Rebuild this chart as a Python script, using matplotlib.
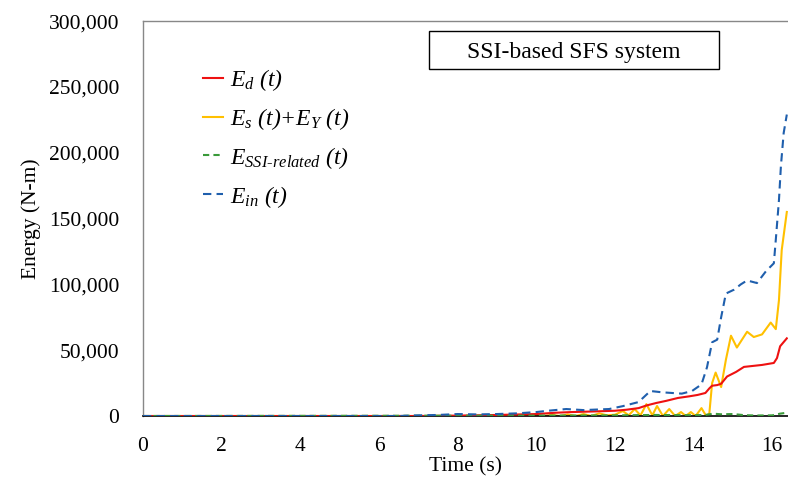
import numpy as np
import matplotlib.pyplot as plt
from matplotlib.ticker import FuncFormatter
from matplotlib.patches import Rectangle

plt.rcParams['font.family'] = 'Liberation Serif'
plt.rcParams['mathtext.fontset'] = 'custom'
plt.rcParams['mathtext.rm'] = 'Liberation Serif'
plt.rcParams['mathtext.it'] = 'Liberation Serif:italic'

# E_d(t)
t_d = [0, 7, 8, 9, 10, 10.5, 10.9, 11.5, 12.0, 12.3, 12.6, 12.8, 13.05, 13.3, 13.6, 13.9,
       14.1, 14.3, 14.4, 14.47, 14.6, 14.7, 14.85, 15.08, 15.28, 15.74, 16.04, 16.12, 16.2, 16.37]
e_d = [0, 0, 300, 800, 1500, 2500, 3000, 3500, 4000, 4800, 6000, 8000, 9900, 11500, 13700, 15000,
       16000, 17500, 21000, 23000, 23500, 24500, 30000, 33500, 37300, 38800, 40300, 44000, 53000, 59000]

# E_s(t) + E_Y(t)
t_s = [0, 9.5, 10.0, 10.2, 10.4, 10.6, 10.8, 11.0, 11.2, 11.4, 11.6, 11.8, 12.0, 12.2, 12.35,
       12.5, 12.65, 12.8, 12.95, 13.07, 13.22, 13.38, 13.53, 13.68, 13.8, 13.93, 14.05, 14.2,
       14.32, 14.4, 14.47, 14.56, 14.7, 14.82, 14.95, 15.1, 15.36, 15.53, 15.74, 15.96, 16.09,
       16.17, 16.24, 16.37]
e_s = [0, 0, 500, 0, 800, 0, 1200, 0, 1500, 0, 2000, 500, 1000, 3800, 500,
       5300, 500, 9000, 500, 7600, 0, 5300, 0, 3000, 0, 3000, 0, 6000,
       0, 2000, 25000, 33000, 22000, 42600, 61000, 52000, 64000, 60000, 62000, 71000, 66000,
       88000, 126000, 155000]

# E_SSI-related(t)
t_ssi = [0, 10, 12, 13, 14, 14.3, 14.5, 14.7, 15.0, 15.3, 15.6, 16.0, 16.2, 16.37]
e_ssi = [0, 300, 500, 800, 600, 800, 1800, 1300, 1500, 600, 400, 500, 1800, 2500]

# E_in(t)
t_in = [0, 6.5, 7.0, 7.5, 8.0, 8.5, 9.0, 9.5, 10.0, 10.3, 10.76, 11.2, 11.85, 12.2, 12.6, 12.9,
        13.2, 13.45, 13.7, 13.96, 14.2, 14.34, 14.47, 14.6, 14.7, 14.82, 15.03, 15.2, 15.36,
        15.61, 15.84, 16.04, 16.09, 16.17, 16.22, 16.29, 16.37]
e_in = [0, 0, 500, 800, 1500, 1200, 1500, 2000, 3000, 4000, 5300, 4500, 5300, 7500, 10600, 19000,
        18000, 17500, 17000, 19000, 24000, 37000, 56000, 58000, 75000, 93000, 96000, 100000, 103000,
        101000, 110000, 116000, 134000, 164000, 190000, 215000, 229000]

fig = plt.figure(figsize=(7.88, 4.79), dpi=100)
ax = fig.add_axes([0.1815, 0.1315, 0.8185, 0.8245])

l1, = ax.plot(t_d, e_d, color='#ee1111', lw=1.5, zorder=3)
l2, = ax.plot(t_s, e_s, color='#ffc000', lw=1.5, zorder=2)
l3, = ax.plot(t_ssi, e_ssi, color='#3a9a3a', lw=1.5, ls=(0, (3, 2)), zorder=4)
l4, = ax.plot(t_in, e_in, color='#1f5fad', lw=1.5, ls=(0, (4, 2.5)), zorder=5)

ax.set_xlim(0, 16.4)
ax.set_ylim(0, 300000)
ax.set_xticks(np.arange(0, 17, 2))
ax.set_yticks(np.arange(0, 300001, 50000))
ax.yaxis.set_major_formatter(FuncFormatter(lambda v, p: f'{v:,.0f}'))
ax.tick_params(length=0, labelsize=15.5)
ax.tick_params(axis='y', pad=17)
ax.tick_params(axis='x', pad=15)

for s in ['left', 'top']:
    ax.spines[s].set_color('#888888')
    ax.spines[s].set_linewidth(1)
ax.spines['right'].set_visible(False)
ax.spines['bottom'].set_color('black')
ax.spines['bottom'].set_linewidth(1.2)

ax.set_xlabel('Time (s)', fontsize=15.5, labelpad=1)
ax.set_ylabel('Energy (N-m)', fontsize=15.5, labelpad=6)

labels = [r'$E_d$ (t)',
          r'$E_s$ (t)+$E_Y$ (t)',
          r'$E_{SSI‐related}$ (t)',
          r'$E_{in}$ (t)']
fig.legend([l1, l2, l3, l4], labels, loc='upper left', bbox_to_anchor=(0.246, 0.88),
           frameon=False, prop={'size': 17, 'style': 'italic'}, handlelength=0.85,
           handletextpad=0.3, labelspacing=0.55, borderaxespad=0)

ax.add_patch(Rectangle((0.443, 0.878), 0.45, 0.097, transform=ax.transAxes,
                       fc='white', ec='black', lw=1, zorder=6))
ax.text(0.668, 0.92, 'SSI-based SFS system', transform=ax.transAxes, fontsize=17,
        ha='center', va='center', zorder=7)

fig.savefig('out.png', dpi=100)
